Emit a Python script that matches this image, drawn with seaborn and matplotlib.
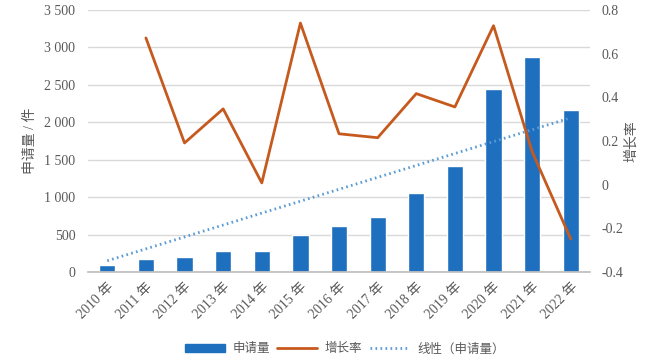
import numpy as np
import pandas as pd
import matplotlib
matplotlib.use("Agg")
import matplotlib.pyplot as plt
import seaborn as sns
from matplotlib.ticker import FuncFormatter, FixedLocator
from matplotlib.patches import Patch
from matplotlib.lines import Line2D

# ---- data ----
years = ["2010 年", "2011 年", "2012 年", "2013 年", "2014 年", "2015 年", "2016 年",
         "2017 年", "2018 年", "2019 年", "2020 年", "2021 年", "2022 年"]
applications = [95, 170, 200, 275, 275, 490, 610, 735, 1050, 1420, 2445, 2870, 2170]
growth_years = years[1:]
growth = [0.672, 0.191, 0.347, 0.008, 0.74, 0.233, 0.215, 0.417, 0.356, 0.728, 0.151, -0.249]
trend_years = [years[0], years[-1]]
trend_values = [150, 2060]
left_ticks = [0, 500, 1000, 1500, 2000, 2500, 3000, 3500]
right_ticks = [-0.4, -0.2, 0, 0.2, 0.4, 0.6, 0.8]

sns.set_theme(style="white")
serif = ["Liberation Serif", "Noto Sans CJK SC", "DejaVu Sans"]
sans = ["Noto Sans CJK SC", "DejaVu Sans"]
plt.rcParams["font.family"] = serif

BAR = "#1F6FBF"
LINE = "#C65A1E"
TREND = "#5B9BD5"
TXT = "#595959"
GRID = "#D9D9D9"

fig = plt.figure(figsize=(6.63, 3.63), dpi=100)
ax = fig.add_axes([0.1327, 0.2507, 0.7573, 0.7218])

df = pd.DataFrame({"year": years, "value": applications})
sns.barplot(data=df, x="year", y="value", ax=ax, color=BAR, width=0.42,
            saturation=1, zorder=2)

pos = {y: i for i, y in enumerate(years)}
tdf = pd.DataFrame({"x": [pos[y] for y in trend_years], "v": trend_values})
sns.lineplot(data=tdf, x="x", y="v", ax=ax, color=TREND, lw=2.0,
             linestyle=(0, (0.6, 1.2)), zorder=3)

ax.set_ylim(0, 3500)
ax.set_xlim(-0.5, len(years) - 0.5)
ax.yaxis.set_major_locator(FixedLocator(left_ticks))
ax.yaxis.set_major_formatter(FuncFormatter(lambda v, p: f"{int(v):,}".replace(",", " ")))
ax.grid(axis="y", color=GRID, lw=1, zorder=0)
ax.set_axisbelow(True)
for s in ["top", "right", "left"]:
    ax.spines[s].set_visible(False)
ax.spines["bottom"].set_color("#BFBFBF")
ax.tick_params(axis="both", length=0, colors=TXT, labelsize=10)
ax.tick_params(axis="y", pad=9)
ax.set_xlabel("")
ax.set_ylabel("申请量 / 件", color=TXT, fontsize=10, labelpad=5)
for lab in ax.get_xticklabels():
    lab.set_rotation(45)
    lab.set_ha("right")
    lab.set_rotation_mode("anchor")
    lab.set_fontsize(10)
ax.tick_params(axis="x", pad=6)

ax2 = ax.twinx()
gdf = pd.DataFrame({"x": [pos[y] for y in growth_years], "g": growth})
sns.lineplot(data=gdf, x="x", y="g", ax=ax2, color=LINE, lw=2.0, zorder=4)
ax2.set_ylim(-0.4, 0.8)
ax2.yaxis.set_major_locator(FixedLocator(right_ticks))
ax2.yaxis.set_major_formatter(FuncFormatter(lambda v, p: "0" if abs(v) < 1e-9 else f"{v:.1f}"))
for s in ["top", "right", "left", "bottom"]:
    ax2.spines[s].set_visible(False)
ax2.tick_params(axis="y", length=0, colors=TXT, labelsize=10, pad=8)
ax2.set_ylabel("增长率", color=TXT, fontsize=10, rotation=90, labelpad=1)
ax2.set_xlabel("")
ax2.grid(False)

handles = [Patch(facecolor=BAR, edgecolor=BAR),
           Line2D([], [], color=LINE, lw=2.0),
           Line2D([], [], color=TREND, lw=2.0, linestyle=(0, (0.6, 1.2)))]
labels = ["申请量", "增长率", "线性（申请量）"]
fig.legend(handles, labels, loc="lower center", bbox_to_anchor=(0.52, -0.01), ncol=3,
           frameon=False, prop={"family": sans, "size": 9}, labelcolor=TXT,
           handlelength=3.2, handletextpad=0.6, columnspacing=0.6)

fig.savefig("out.png", dpi=100)
